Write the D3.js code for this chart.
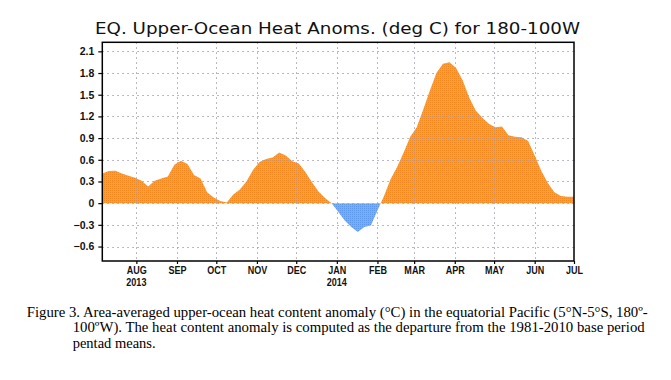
<!DOCTYPE html>
<html>
<head>
<meta charset="utf-8">
<script src="https://cdn.jsdelivr.net/npm/d3@7"></script>
<style>
  html, body { margin: 0; padding: 0; background: #fff; }
  svg { display: block; }
</style>
</head>
<body>
<svg id="chart" width="671" height="380"></svg>
<script>
// ---------- data ----------
const dates = [
  "2013-07-06","2013-07-11","2013-07-16","2013-07-21","2013-07-26","2013-07-31",
  "2013-08-05","2013-08-10","2013-08-15","2013-08-20","2013-08-25","2013-08-30",
  "2013-09-04","2013-09-09","2013-09-14","2013-09-19","2013-09-24","2013-09-29",
  "2013-10-04","2013-10-09","2013-10-14","2013-10-19","2013-10-24","2013-10-29",
  "2013-11-03","2013-11-08","2013-11-13","2013-11-18","2013-11-23","2013-11-28",
  "2013-12-03","2013-12-08","2013-12-13","2013-12-18","2013-12-23","2013-12-28",
  "2014-01-02","2014-01-07","2014-01-12","2014-01-17","2014-01-22","2014-01-27",
  "2014-02-01","2014-02-06","2014-02-11","2014-02-16","2014-02-21","2014-02-26",
  "2014-03-03","2014-03-08","2014-03-13","2014-03-18","2014-03-23","2014-03-28",
  "2014-04-02","2014-04-07","2014-04-12","2014-04-17","2014-04-22","2014-04-27",
  "2014-05-02","2014-05-07","2014-05-12","2014-05-17","2014-05-22","2014-05-27",
  "2014-06-01","2014-06-06","2014-06-11","2014-06-16","2014-06-21","2014-06-26",
  "2014-07-01"
];
const anomalies = [
  0.41, 0.445, 0.45, 0.41, 0.38, 0.35,
  0.31, 0.23, 0.31, 0.34, 0.37, 0.53,
  0.585, 0.54, 0.39, 0.34, 0.15, 0.08,
  0.03, 0.01, 0.12, 0.19, 0.30, 0.46,
  0.57, 0.61, 0.63, 0.70, 0.66, 0.58,
  0.55, 0.43, 0.29, 0.16, 0.07, 0.0,
  -0.12, -0.24, -0.33, -0.40, -0.33, -0.31,
  -0.10, 0.10, 0.33, 0.50, 0.70, 0.92,
  1.05, 1.30, 1.56, 1.80, 1.93, 1.95,
  1.87, 1.70, 1.46, 1.28, 1.18, 1.10,
  1.05, 1.06, 0.94, 0.92, 0.91, 0.86,
  0.66, 0.45, 0.28, 0.15, 0.10, 0.09,
  0.09
];
const monthTickDates = ["2013-08-01","2013-09-01","2013-10-01","2013-11-01","2013-12-01",
  "2014-01-01","2014-02-01","2014-03-01","2014-04-01","2014-05-01","2014-06-01","2014-07-01"];
const monthLabels = ["AUG","SEP","OCT","NOV","DEC","JAN","FEB","MAR","APR","MAY","JUN","JUL"];
const yearLabels = [{date: "2013-08-01", label: "2013"}, {date: "2014-01-01", label: "2014"}];
const yTicks = [-0.6, -0.3, 0, 0.3, 0.6, 0.9, 1.2, 1.5, 1.8, 2.1];
const yTickLabels = ["\u22120.6", "\u22120.3", "0", "0.3", "0.6", "0.9", "1.2", "1.5", "1.8", "2.1"];
const xDomain = ["2013-07-06", "2014-07-01"];
const yDomain = [-0.8, 2.225];

const titleText = "EQ. Upper-Ocean Heat Anoms. (deg C) for 180-100W";
const captionLines = [
  "Figure 3. Area-averaged upper-ocean heat content anomaly (\u00B0C) in the equatorial Pacific (5\u00B0N-5\u00B0S, 180\u00BA-",
  "100\u00BAW). The heat content anomaly is computed as the departure from the 1981-2010 base period",
  "pentad means."
];

// ---------- layout ----------
const L = 102.3, R = 574, T = 42.3, B = 261;
const parse = d3.utcParse("%Y-%m-%d");
const data = dates.map((d, i) => ({date: parse(d), v: anomalies[i]}));

const svg = d3.select("#chart");
const x = d3.scaleUtc().domain(xDomain.map(parse)).range([L, R]);
const y = d3.scaleLinear().domain(yDomain).range([B, T]);

const defs = svg.append("defs");
defs.append("clipPath").attr("id", "clipPos").append("rect")
  .attr("x", L).attr("y", T).attr("width", R - L).attr("height", y(0) - T);
defs.append("clipPath").attr("id", "clipNeg").append("rect")
  .attr("x", L).attr("y", y(0)).attr("width", R - L).attr("height", B - y(0));

// dithered fill patterns
function ditherPattern(id, base, dot) {
  const p = defs.append("pattern").attr("id", id).attr("patternUnits", "userSpaceOnUse")
    .attr("width", 2).attr("height", 2);
  p.append("rect").attr("width", 2).attr("height", 2).attr("fill", base);
  p.append("rect").attr("x", 0).attr("y", 0).attr("width", 1).attr("height", 1).attr("fill", dot);
}
ditherPattern("orangeFill", "#FFA500", "#F08A20");
ditherPattern("blueFill", "#6EB0FF", "#5E98E8");

const area = d3.area().x(d => x(d.date)).y0(y(0)).y1(d => y(d.v));

svg.append("path").datum(data).attr("d", area)
  .attr("fill", "url(#orangeFill)").attr("clip-path", "url(#clipPos)");
svg.append("path").datum(data).attr("d", area)
  .attr("fill", "url(#blueFill)").attr("clip-path", "url(#clipNeg)");

// grid lines (dotted)
const grid = svg.append("g").attr("stroke", "#a8a0b4").attr("stroke-width", 1)
  .attr("stroke-dasharray", "1.5,3.5");
grid.selectAll("line.h").data(yTicks).join("line")
  .attr("x1", L).attr("x2", R).attr("y1", d => Math.round(y(d)) + 0.5).attr("y2", d => Math.round(y(d)) + 0.5);
grid.selectAll("line.v").data(monthTickDates.slice(0, -1)).join("line")
  .attr("x1", d => Math.round(x(parse(d))) + 0.5).attr("x2", d => Math.round(x(parse(d))) + 0.5)
  .attr("y1", T).attr("y2", B);

// axes
const axisFont = "'Liberation Sans', Arial, sans-serif";
const xAxis = d3.axisBottom(x).tickValues(monthTickDates.map(parse)).tickSize(3).tickPadding(3)
  .tickFormat((d, i) => monthLabels[i]);
const gx = svg.append("g").attr("transform", `translate(0,${B})`).call(xAxis);
gx.select(".domain").remove();
gx.selectAll(".tick line").attr("stroke", "#000").attr("stroke-width", 1.2);
gx.selectAll(".tick text").attr("font-family", axisFont).attr("font-size", 10.5)
  .attr("font-weight", "bold").attr("fill", "#111").attr("transform", "scale(0.86,1)");

svg.append("g").selectAll("text").data(yearLabels).join("text")
  .attr("transform", d => `translate(${x(parse(d.date))},285.5) scale(0.86,1)`)
  .attr("text-anchor", "middle").attr("font-family", axisFont).attr("font-size", 10.5)
  .attr("font-weight", "bold").attr("fill", "#111").text(d => d.label);

const yAxis = d3.axisLeft(y).tickValues(yTicks).tickSize(4).tickPadding(4)
  .tickFormat((d, i) => yTickLabels[i]);
const gy = svg.append("g").attr("transform", `translate(${L},0)`).call(yAxis);
gy.select(".domain").remove();
gy.selectAll(".tick line").attr("stroke", "#000").attr("stroke-width", 1.2);
gy.selectAll(".tick text").attr("font-family", axisFont).attr("font-size", 10.5)
  .attr("font-weight", "bold").attr("fill", "#111");

// frame
svg.append("rect").attr("x", L).attr("y", T).attr("width", R - L).attr("height", B - T)
  .attr("fill", "none").attr("stroke", "#000").attr("stroke-width", 1.5);

// title
svg.append("text").attr("x", 95).attr("y", 33.5)
  .attr("font-family", "'DejaVu Sans', Arial, sans-serif").attr("font-size", 15)
  .attr("fill", "#111").attr("textLength", 485).attr("lengthAdjust", "spacingAndGlyphs")
  .text(titleText);

// caption
const capFont = "'Liberation Serif', 'Times New Roman', serif";
const capPos = [{x: 26.7, y: 316.5, w: 621}, {x: 72.7, y: 332, w: 572}, {x: 72.7, y: 347.5, w: null}];
captionLines.forEach((t, i) => {
  const el = svg.append("text").attr("x", capPos[i].x).attr("y", capPos[i].y)
    .attr("font-family", capFont).attr("font-size", 14.5).attr("fill", "#000").text(t);
  if (capPos[i].w) el.attr("textLength", capPos[i].w).attr("lengthAdjust", "spacingAndGlyphs");
});
</script>
</body>
</html>
